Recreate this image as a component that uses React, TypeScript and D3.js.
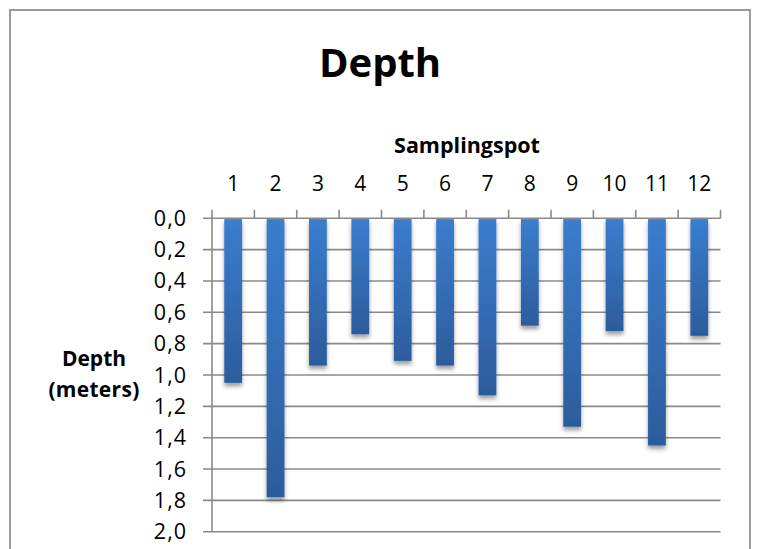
import React from "react";
import * as d3 from "d3";

const categories = ["1", "2", "3", "4", "5", "6", "7", "8", "9", "10", "11", "12"];
const depths = [1.05, 1.78, 0.94, 0.74, 0.91, 0.94, 1.13, 0.685, 1.33, 0.72, 1.45, 0.75];
const yTicks = [0, 0.2, 0.4, 0.6, 0.8, 1.0, 1.2, 1.4, 1.6, 1.8, 2.0];
const title = "Depth";
const xTitle = "Samplingspot";
const yTitle = ["Depth", "(meters)"];

const W = 758;
const H = 549;
const plot = { left: 212, right: 720.5, top: 218.3, bottom: 531.7 };
const font = "'Open Sans', 'Noto Sans', sans-serif";
const gridColor = "#8a8a8a";

export default function App() {
  const x = d3.scaleBand<string>().domain(categories).range([plot.left, plot.right]).padding(0);
  const y = d3.scaleLinear().domain([0, 2]).range([plot.top, plot.bottom]);
  const bw = x.bandwidth() * 0.42;
  const fmt = (v: number) => d3.format(".1f")(v).replace(".", ",");
  const boundaries = d3.range(categories.length + 1).map((i) => plot.left + i * x.bandwidth());

  return (
    <svg
      width={W}
      height={H}
      style={{ position: "absolute", left: 0, top: 0, display: "block", background: "#fff" }}
    >
      <defs>
        <linearGradient id="barGrad" x1="0" y1="0" x2="0" y2="1">
          <stop offset="0%" stopColor="#3a7dce" />
          <stop offset="100%" stopColor="#2c5c9c" />
        </linearGradient>
        <filter id="shadow" x="-50%" y="-10%" width="200%" height="130%">
          <feDropShadow dx="0" dy="3.5" stdDeviation="2.2" floodColor="#000" floodOpacity="0.38" />
        </filter>
      </defs>
      <rect x={10} y={10} width={740} height={560} fill="#fff" stroke="#8f8f8f" strokeWidth={1.8} />

      <text x={380} y={77} textAnchor="middle" fontFamily={font} fontWeight="bold" fontSize={40} fill="#000">
        {title}
      </text>
      <text x={467} y={153} textAnchor="middle" fontFamily={font} fontWeight="bold" fontSize={21.5} fill="#000">
        {xTitle}
      </text>
      <text x={94} y={366} textAnchor="middle" fontFamily={font} fontWeight="bold" fontSize={21} fill="#000">
        {yTitle[0]}
      </text>
      <text x={94} y={397} textAnchor="middle" fontFamily={font} fontWeight="bold" fontSize={21} letterSpacing={0.3} fill="#000">
        {yTitle[1]}
      </text>

      {/* gridlines */}
      {yTicks.map((t) => (
        <g key={t}>
          <line x1={plot.left - 9} x2={plot.right} y1={y(t)} y2={y(t)} stroke={gridColor} strokeWidth={1.6} />
          <text
            x={187}
            y={y(t) + 7.5}
            textAnchor="end"
            fontFamily={font}
            fontSize={21.5}
            letterSpacing={1}
            fill="#000"
          >
            {fmt(t)}
          </text>
        </g>
      ))}
      {/* y axis line */}
      <line x1={plot.left} x2={plot.left} y1={plot.top} y2={plot.bottom} stroke={gridColor} strokeWidth={1.6} />
      {/* x ticks */}
      {boundaries.map((b, i) => (
        <line key={i} x1={b} x2={b} y1={plot.top - 8.5} y2={plot.top} stroke={gridColor} strokeWidth={1.6} />
      ))}
      {categories.map((c) => (
        <text
          key={c}
          x={(x(c) as number) + x.bandwidth() / 2}
          y={191}
          textAnchor="middle"
          fontFamily={font}
          fontSize={21}
          fill="#000"
        >
          {c}
        </text>
      ))}

      {/* bars */}
      {categories.map((c, i) => (
        <rect
          key={c}
          x={(x(c) as number) + x.bandwidth() / 2 - bw / 2}
          y={y(0) + 0.8}
          width={bw}
          height={y(depths[i]) - y(0) - 0.8}
          fill="url(#barGrad)"
          filter="url(#shadow)"
        />
      ))}
    </svg>
  );
}
